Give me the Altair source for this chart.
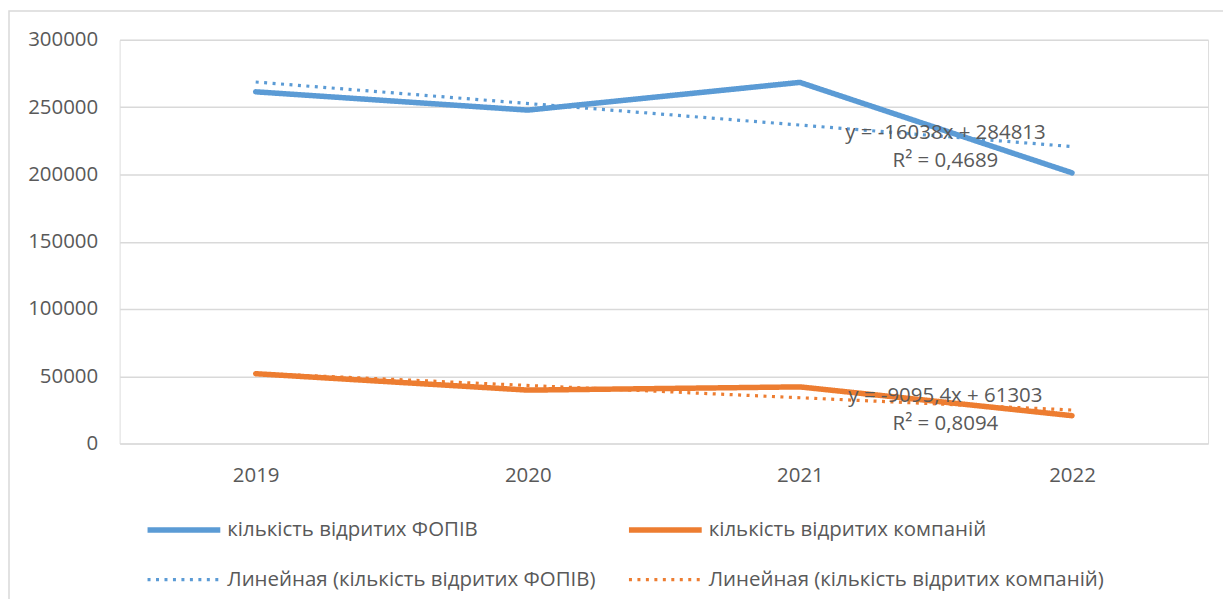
import altair as alt
import pandas as pd

years = [2019, 2020, 2021, 2022]
fop_values = [261400, 247800, 268400, 201200]
company_values = [51900, 39700, 42100, 20700]

series_names = ["кількість відритих ФОПІВ", "кількість відритих компаній"]
trend_names = ["Линейная (кількість відритих ФОПІВ)", "Линейная (кількість відритих компаній)"]
eq_labels = ["y = -16038x + 284813", "y = -9095,4x + 61303"]
r2_labels = ["R² = 0,4689", "R² = 0,8094"]
y_ticks = [0, 50000, 100000, 150000, 200000, 250000, 300000]

rows = []
for i, vals in enumerate([fop_values, company_values]):
    for yr, v in zip(years, vals):
        rows.append({"year": yr, "value": v, "series": series_names[i],
                     "trend": trend_names[i], "eq": eq_labels[i], "r2": r2_labels[i]})
df = pd.DataFrame(rows)

FONT = "Open Sans"
FS = 20.5
TXT = "#595959"
BLUE = "#5B9BD5"
ORANGE = "#ED7D31"

# legend fills column-major: column 1 = series 1 + its trend, column 2 = series 2 + its trend
legend_domain = [series_names[0], trend_names[0], series_names[1], trend_names[1]]
color_scale = alt.Scale(domain=legend_domain, range=[BLUE, BLUE, ORANGE, ORANGE])
dash_scale = alt.Scale(domain=legend_domain, range=[[1, 0], [3, 5.5], [1, 0], [3, 5.5]])
width_scale = alt.Scale(type="ordinal", domain=legend_domain, range=[5.5, 3.2, 5.5, 3.2])

x_enc = alt.X("year:Q", scale=alt.Scale(domain=[2018.5, 2022.5], nice=False, zero=False),
              axis=alt.Axis(values=years, format="d", title=None, grid=False, ticks=False,
                            domain=False, labelPadding=22, labelFontSize=FS,
                            labelColor=TXT, labelFont=FONT))
y_enc = alt.Y("value:Q", scale=alt.Scale(domain=[0, 300000], nice=False),
              axis=alt.Axis(values=y_ticks, format="d", title=None, ticks=False, domain=False,
                            labelPadding=22, labelFontSize=FS, labelColor=TXT, labelFont=FONT,
                            gridColor="#D9D9D9", gridWidth=1.5))

legend = alt.Legend(title=None, orient="none", legendX=25, legendY=452, columns=2,
                    symbolType="stroke", symbolSize=73 * 73,
                    labelFontSize=FS, labelFont=FONT, labelColor=TXT, labelOffset=4,
                    rowPadding=-32, columnPadding=22, labelLimit=600, symbolLimit=10,
                    symbolOpacity=1)

color_enc = alt.Color("legend:N", scale=color_scale, legend=legend)
dash_enc = alt.StrokeDash("legend:N", scale=dash_scale, legend=legend)
sw_enc = alt.StrokeWidth("legend:N", scale=width_scale, legend=legend)

base = alt.Chart(df)

border = base.mark_rect(fill=None, stroke="#D9D9D9", strokeWidth=1.5).encode(
    x=alt.value(-111), y=alt.value(-29), x2=alt.value(1200), y2=alt.value(700)
).transform_filter("datum.year == 2019 && datum.series == '%s'" % series_names[0])

main = base.transform_calculate(legend="datum.series").mark_line(
    strokeCap="round", strokeJoin="round"
).encode(x=x_enc, y=y_enc, color=color_enc, strokeDash=dash_enc, strokeWidth=sw_enc,
         order=alt.Order("year:Q"))

trend = base.transform_regression(
    "year", "value", groupby=["trend", "eq", "r2"]
).transform_calculate(legend="datum.trend").mark_line(strokeCap="butt").encode(
    x="year:Q", y="value:Q", color=color_enc, strokeDash=dash_enc, strokeWidth=sw_enc
)

labels = base.transform_regression(
    "year", "value", groupby=["trend", "eq", "r2"]
).transform_filter("datum.year >= 2021.99").transform_calculate(
    label="datum.eq + '\\n' + datum.r2"
).mark_text(font=FONT, fontSize=FS, color=TXT, align="center", baseline="middle",
            lineBreak="\n", lineHeight=28, dx=-127, dy=-14).encode(
    x="year:Q", y="value:Q", text="label:N"
)

chart = alt.layer(border, main, trend, labels).properties(
    width=1092, height=405,
    autosize=alt.AutoSizeParams(type="none"),
    padding={"left": 112, "top": 31, "right": 15, "bottom": 155},
).configure_view(stroke=None).configure(font=FONT)

chart.save("out.html", embed_options={"renderer": "svg", "actions": False})
